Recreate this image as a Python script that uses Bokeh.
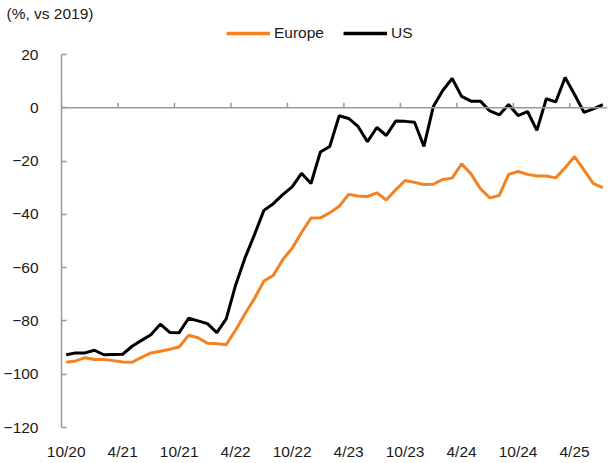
from bokeh.plotting import figure
from bokeh.layouts import column
from bokeh.models import FixedTicker, Range1d, Legend, LegendItem, Span, Title
from bokeh.embed import file_html
from bokeh.resources import INLINE

# Monthly data, Oct 2020 .. Jul 2025 (58 months)
months = []
for yr in range(2020, 2026):
    for mo in range(1, 13):
        if (2020, 10) <= (yr, mo) <= (2025, 7):
            months.append(f"{mo}/{str(yr)[2:]}")

europe = [-95.5, -95.0, -93.8, -94.5, -94.5, -94.9, -95.4, -95.5, -93.7, -92.0,
          -91.4, -90.6, -89.8, -85.4, -86.3, -88.4, -88.6, -88.9, -83.4, -77.3,
          -71.6, -65.0, -62.9, -57.0, -52.7, -46.8, -41.4, -41.3, -39.4, -37.0,
          -32.5, -33.1, -33.3, -31.9, -34.6, -30.8, -27.3, -28.0, -28.8, -28.7,
          -26.9, -26.4, -21.0, -24.8, -30.4, -33.8, -32.9, -25.0, -23.9, -25.0,
          -25.6, -25.6, -26.3, -22.5, -18.3, -23.3, -28.5, -30.0]

us = [-92.7, -92.0, -92.0, -91.0, -92.7, -92.6, -92.5, -89.5, -87.3, -85.2,
      -81.2, -84.3, -84.4, -79.0, -80.0, -81.0, -84.4, -79.2, -66.5, -56.3,
      -47.6, -38.5, -36.0, -32.6, -29.7, -24.6, -28.4, -16.6, -14.5, -3.0,
      -4.0, -7.0, -12.7, -7.4, -10.4, -5.0, -5.1, -5.4, -14.5, 0.5,
      6.5, 11.0, 4.3, 2.5, 2.5, -1.2, -2.7, 1.2, -2.9, -1.4,
      -8.5, 3.4, 2.2, 11.4, 5.0, -1.7, -0.4, 1.2]

tick_labels = ["10/20", "4/21", "10/21", "4/22", "10/22", "4/23", "10/23", "4/24", "10/24", "4/25"]
y_ticks = [-120, -100, -80, -60, -40, -20, 0, 20]
series_names = ["Europe", "US"]
series_colors = ["#F58220", "#000000"]

FONT = "Liberation Sans"
FS = "15.5px"
AXIS_GRAY = "#999999"
TEXT = "#1a1a1a"

n = len(months)
x = list(range(n))
label_pos = [i * 6 for i in range(len(tick_labels))]
boundary_pos = [i * 6 - 0.5 for i in range(len(tick_labels))]

W = 611

# ---------- header: unit title + legend ----------
h = figure(width=W, height=44, output_backend="svg", toolbar_location=None,
           x_range=Range1d(0, 1), y_range=Range1d(0, 1),
           x_axis_type=None, y_axis_type=None,
           min_border_left=0, min_border_right=4, min_border_top=22, min_border_bottom=0)
h.outline_line_color = None
h.grid.visible = False
h.add_layout(Title(text="(%, vs 2019)", align="left", offset=-55, standoff=0,
                   vertical_align="middle",
                   text_font=FONT, text_font_size=FS, text_font_style="normal",
                   text_color=TEXT), "above")

nan = float("nan")
dummies = [h.line(x=[nan, nan], y=[nan, nan], line_color=c, line_width=3.5) for c in series_colors]
legend = Legend(items=[LegendItem(label=nm, renderers=[r]) for nm, r in zip(series_names, dummies)],
                orientation="horizontal", location=(165, 2),
                border_line_color=None, background_fill_alpha=0,
                label_text_font=FONT, label_text_font_size=FS, label_text_color=TEXT,
                glyph_width=44, glyph_height=12, label_standoff=4, spacing=19,
                padding=0, margin=0)
h.add_layout(legend)

# ---------- main chart ----------
p = figure(width=W, height=419, output_backend="svg", toolbar_location=None,
           x_range=Range1d(-0.5, n - 0.5), y_range=Range1d(-120, 20),
           min_border_left=54, min_border_right=4, min_border_top=10, min_border_bottom=36)
p.outline_line_color = None
p.xgrid.grid_line_color = None
p.ygrid.grid_line_color = None

xa = p.xaxis[0]
xa.ticker = FixedTicker(ticks=label_pos)
xa.major_label_overrides = {pos: lab for pos, lab in zip(label_pos, tick_labels)}
xa.axis_line_color = None
xa.major_tick_line_color = None
xa.minor_tick_line_color = None
xa.major_label_text_font = FONT
xa.major_label_text_font_size = FS
xa.major_label_text_color = TEXT
xa.major_label_standoff = 9

# zero line with upward ticks at category boundaries
p.add_layout(Span(location=0, dimension="width", line_color=AXIS_GRAY, line_width=1.5))
p.segment(x0=boundary_pos, y0=[0] * len(boundary_pos), x1=boundary_pos,
          y1=[1.9] * len(boundary_pos), line_color=AXIS_GRAY, line_width=1.5)

ya = p.yaxis[0]
ya.ticker = FixedTicker(ticks=y_ticks)
ya.major_tick_in = 5
ya.major_tick_out = 0
ya.minor_tick_line_color = None
ya.axis_line_color = AXIS_GRAY
ya.major_tick_line_color = AXIS_GRAY
ya.axis_line_width = 1.5
ya.major_tick_line_width = 1.5
ya.major_label_text_font = FONT
ya.major_label_text_font_size = FS
ya.major_label_text_color = TEXT
ya.major_label_standoff = 23

p.line(x, europe, line_color=series_colors[0], line_width=3)
p.line(x, us, line_color=series_colors[1], line_width=3)

layout = column(h, p, spacing=0)
open("out.html", "w").write(file_html(layout, INLINE))
